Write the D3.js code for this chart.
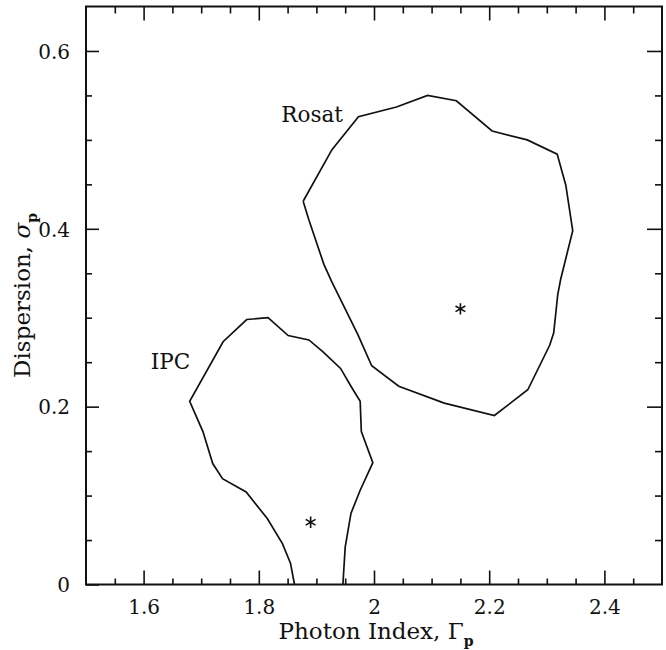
<!DOCTYPE html>
<html>
<head>
<meta charset="utf-8">
<script src="https://cdn.jsdelivr.net/npm/d3@7"></script>
<style>
  body { margin: 0; background: #fff; }
  text { font-family: "DejaVu Serif", serif; fill: #111; }
</style>
</head>
<body>
<div id="chart-area"></div>
<script>
// contour data (photon index, dispersion)
var rosatX = [1.877, 1.927, 1.973, 2.039, 2.093, 2.143, 2.205, 2.266, 2.318, 2.333, 2.345, 2.324, 2.319,
              2.312, 2.305, 2.267, 2.209, 2.122, 2.043, 1.996, 1.972, 1.927, 1.913, 1.887, 1.877];
var rosatY = [0.431, 0.489, 0.526, 0.537, 0.550, 0.544, 0.510, 0.500, 0.484, 0.449, 0.398, 0.343, 0.326,
              0.283, 0.269, 0.219, 0.190, 0.204, 0.223, 0.246, 0.281, 0.340, 0.360, 0.410, 0.431];

var ipcX = [1.862, 1.855, 1.841, 1.815, 1.778, 1.737, 1.720, 1.703, 1.680, 1.738, 1.779, 1.816, 1.851,
            1.887, 1.911, 1.942, 1.960, 1.976, 1.978, 1.998, 1.976, 1.960, 1.950, 1.946];
var ipcY = [0, 0.024, 0.046, 0.074, 0.104, 0.119, 0.136, 0.172, 0.206, 0.273, 0.298, 0.300, 0.280,
            0.275, 0.262, 0.243, 0.223, 0.206, 0.172, 0.137, 0.106, 0.080, 0.042, 0];

// best fit points (asterisks)
var bestX = [2.15, 1.89];
var bestY = [0.31, 0.07];

// contour names, placed by their right end
var labels = ["Rosat", "IPC"];
var labelX = [1.946, 1.681];
var labelY = [0.520, 0.242];

var xTicks = [1.6, 1.8, 2, 2.2, 2.4];
var yTicks = [0, 0.2, 0.4, 0.6];

var margin = {top: 6.5, left: 86},
    width = 576,
    height = 578;

var svg = d3.select("#chart-area").append("svg")
    .attr("width", 666)
    .attr("height", 650)
    .append("g")
    .attr("transform", "translate(" + margin.left + "," + margin.top + ")");

var xScale = d3.scaleLinear().domain([1.5, 2.5]).range([0, width]);
var yScale = d3.scaleLinear().domain([0, 0.65]).range([height, 0]);

var xMinor = d3.range(1.55, 2.5, 0.05).map(function(d) { return +d.toFixed(2); });
var yMinor = d3.range(0.05, 0.65, 0.05).map(function(d) { return +d.toFixed(2); });

function isMajor(v, list) {
    return list.some(function(t) { return Math.abs(t - v) < 1e-6; });
}

// bottom axis
var bottomAxis = svg.append("g")
    .attr("transform", "translate(0," + height + ")")
    .call(d3.axisBottom(xScale).tickValues(xMinor)
        .tickSize(0).tickFormat(function(d) { return isMajor(d, xTicks) ? d3.format("")(d) : ""; }));
bottomAxis.selectAll(".tick line").attr("y2", function(d) { return isMajor(d, xTicks) ? -14 : -6; });
bottomAxis.selectAll("text").attr("dy", 0).attr("y", 29).style("font-size", "20px");

// top axis
var topAxis = svg.append("g")
    .call(d3.axisTop(xScale).tickValues(xMinor).tickSize(0).tickFormat(""));
topAxis.selectAll(".tick line").attr("y2", function(d) { return isMajor(d, xTicks) ? 14 : 7; });

// left axis
var leftAxis = svg.append("g")
    .call(d3.axisLeft(yScale).tickValues([0].concat(yMinor))
        .tickSize(0).tickFormat(function(d) { return isMajor(d, yTicks) ? d3.format("")(d) : ""; }));
leftAxis.selectAll(".tick line").attr("x2", function(d) { return isMajor(d, yTicks) ? 13 : 6; });
leftAxis.selectAll("text").attr("x", -16).attr("dy", "0.36em").style("font-size", "20px");

// right axis
var rightAxis = svg.append("g")
    .attr("transform", "translate(" + width + ",0)")
    .call(d3.axisRight(yScale).tickValues(yMinor).tickSize(0).tickFormat(""));
rightAxis.selectAll(".tick line").attr("x2", function(d) { return isMajor(d, yTicks) ? -15 : -7; });

svg.selectAll(".domain").remove();
svg.selectAll(".tick line").attr("stroke", "#111").attr("stroke-width", 1.6);

// frame
svg.append("rect")
    .attr("width", width)
    .attr("height", height)
    .attr("fill", "none")
    .attr("stroke", "#111")
    .attr("stroke-width", 2);

// contours
var line = d3.line()
    .x(function(d) { return xScale(d[0]); })
    .y(function(d) { return yScale(d[1]); });

svg.append("path")
    .datum(d3.zip(rosatX, rosatY))
    .attr("d", line)
    .attr("fill", "none")
    .attr("stroke", "#111")
    .attr("stroke-width", 1.7);

svg.append("path")
    .datum(d3.zip(ipcX, ipcY))
    .attr("d", line)
    .attr("fill", "none")
    .attr("stroke", "#111")
    .attr("stroke-width", 1.7);

// asterisks
svg.selectAll(".star")
    .data(d3.zip(bestX, bestY))
    .enter()
    .append("path")
    .attr("class", "star")
    .attr("transform", function(d) { return "translate(" + xScale(d[0]) + "," + yScale(d[1]) + ")"; })
    .attr("d", d3.symbol().type(d3.symbolAsterisk).size(90))
    .attr("stroke", "#111")
    .attr("stroke-width", 1.6);

// contour labels
svg.selectAll(".clabel")
    .data(labels)
    .enter()
    .append("text")
    .attr("x", function(d, i) { return xScale(labelX[i]); })
    .attr("y", function(d, i) { return yScale(labelY[i]); })
    .attr("text-anchor", "end")
    .style("font-size", "21.5px")
    .text(function(d) { return d; });

// x label
var xl = svg.append("text")
    .attr("x", width / 2 + 2)
    .attr("y", 632)
    .attr("text-anchor", "middle")
    .style("font-size", "23px");
xl.append("tspan").text("Photon Index, \u0393");
xl.append("tspan").attr("dy", 7).style("font-size", "14px").style("font-weight", "bold").text("p");

// y label
var yl = svg.append("text")
    .attr("transform", "translate(-56," + (height / 2) + ") rotate(-90)")
    .attr("text-anchor", "middle")
    .style("font-size", "23px");
yl.append("tspan").text("Dispersion, ");
yl.append("tspan").style("font-style", "italic").text("\u03c3");
yl.append("tspan").attr("dy", 7).style("font-size", "14px").style("font-weight", "bold").text("p");
</script>
</body>
</html>
